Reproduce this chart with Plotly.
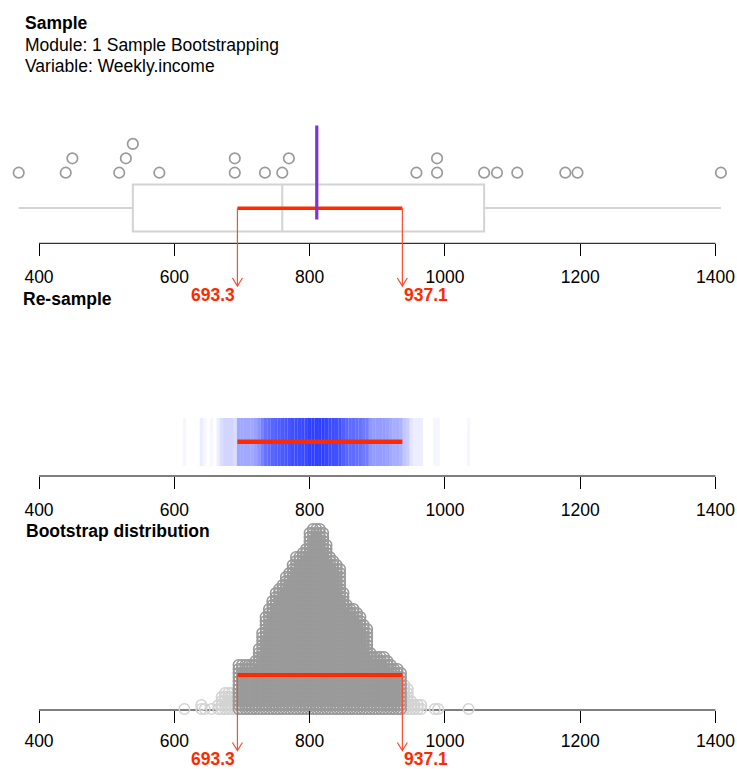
import numpy as np
import plotly.graph_objects as go

# ---------------- data ----------------
sample_income = [370, 439.5, 449.3, 518.6, 528.4, 538.7, 577.9, 689.4, 689.4,
                 734, 759.6, 769.4, 957.9, 988.4, 988.4, 1058, 1077, 1107,
                 1178, 1196, 1408]
ci_bounds = [693.3, 937.1]
ci_labels = ["693.3", "937.1"]

# bootstrap means, binned (bin centre, number of resamples in the bin)
boot_bins = [615, 640, 645, 655, 665, 670, 675, 680, 685, 690,
             695, 700, 705, 710, 715, 720, 725, 730, 735, 740,
             745, 750, 755, 760, 765, 770, 775, 780, 785, 790,
             795, 800, 805, 810, 815, 820, 825, 830, 835, 840,
             845, 850, 855, 860, 865, 870, 875, 880, 885, 890,
             895, 900, 905, 910, 915, 920, 925, 930, 935, 940,
             945, 950, 955, 960, 965, 985, 990, 1035]
boot_counts = [1, 2, 1, 1, 2, 4, 5, 5, 5, 4,
               12, 12, 12, 12, 12, 13, 16, 20, 24, 26,
               28, 30, 31, 32, 34, 35, 37, 39, 39, 40,
               41, 45, 46, 46, 46, 45, 42, 39, 38, 37,
               36, 30, 27, 26, 26, 25, 24, 22, 21, 15,
               14, 14, 14, 14, 13, 12, 11, 11, 10, 7,
               6, 3, 2, 2, 2, 1, 1, 1]
boot_bin_width = 5

tick_vals = [400, 600, 800, 1000, 1200, 1400]
tick_text = ["400", "600", "800", "1000", "1200", "1400"]

title_lines = ["Sample", "Module: 1 Sample Bootstrapping", "Variable: Weekly.income"]
panel_titles = ["Re-sample", "Bootstrap distribution"]

# ---------------- layout constants (pixels) ----------------
W, H = 737, 769
FONT = "Liberation Sans, Arial, sans-serif"
FS = 17.5
PX_FIRST, PX_LAST = 39.0, 715.5          # pixel x of first / last tick
scale = (PX_LAST - PX_FIRST) / (tick_vals[-1] - tick_vals[0])
x_range = [tick_vals[0] - PX_FIRST / scale, tick_vals[0] + (W - PX_FIRST) / scale]

AXIS_Y = [243.3, 476.0, 710.0]
RED = "#FF2A00"
RED_THIN = "#FF4A30"
GREY = "#9A9A9A"
LIGHT = "#D3D3D3"
PURPLE = "#7E35CF"

fig = go.Figure()

# ---------------- panel 1: sample ----------------
fig.add_trace(go.Box(
    x=sample_income, y0=208, orientation="h", width=47, whiskerwidth=0,
    quartilemethod="inclusive", boxpoints=False,
    line=dict(color=LIGHT, width=2), fillcolor="rgba(0,0,0,0)",
    xaxis="x", yaxis="y", hoverinfo="skip", showlegend=False))

vals_sorted = sorted(sample_income)
levels = []
prev = None
lvl = 0
for v in vals_sorted:
    if prev is not None and v - prev < 12:
        lvl += 1
    else:
        lvl = 0
    levels.append(lvl)
    prev = v
ROW0, ROW_STEP = 172.7, 14.4
fig.add_trace(go.Scatter(
    x=vals_sorted, y=[ROW0 - l * ROW_STEP for l in levels], mode="markers",
    marker=dict(symbol="circle-open", size=10.5, color=GREY, line=dict(width=1.7)),
    xaxis="x", yaxis="y", hoverinfo="skip", showlegend=False))

# ---------------- panel 2: re-sample band ----------------
line_alpha = 0.04
band_colors = ["rgba(10,30,255,%.3f)" % (1 - (1 - line_alpha) ** c) for c in boot_counts]
BAND_TOP, BAND_BOT = 418.0, 466.0
fig.add_trace(go.Bar(
    x=boot_bins, y=[BAND_BOT - BAND_TOP] * len(boot_bins), base=BAND_TOP,
    width=boot_bin_width, marker=dict(color=band_colors, line=dict(width=0)),
    xaxis="x2", yaxis="y", hoverinfo="skip", showlegend=False))

# ---------------- panel 3: bootstrap distribution ----------------
BASE3, STEP3 = 709.0, 4.0
dx, dy, lx, ly = [], [], [], []
for b, c in zip(boot_bins, boot_counts):
    inside = ci_bounds[0] <= b <= ci_bounds[1]
    for k in range(c):
        if inside:
            dx.append(b); dy.append(BASE3 - k * STEP3)
        else:
            lx.append(b); ly.append(BASE3 - k * STEP3)
fig.add_trace(go.Scatter(
    x=lx, y=ly, mode="markers",
    marker=dict(symbol="circle-open", size=10.5, color=LIGHT, line=dict(width=1.6)),
    xaxis="x3", yaxis="y", hoverinfo="skip", showlegend=False))
fig.add_trace(go.Scatter(
    x=dx, y=dy, mode="markers",
    marker=dict(symbol="circle-open", size=10.5, color=GREY, line=dict(width=1.6)),
    xaxis="x3", yaxis="y", hoverinfo="skip", showlegend=False))

# ---------------- shapes ----------------
shapes = []
for ay in AXIS_Y:
    shapes.append(dict(type="line", xref="x", yref="y", x0=tick_vals[0], x1=tick_vals[-1],
                       y0=ay, y1=ay, line=dict(color="black", width=1), layer="below"))

def ci_arrow(xv, y_top, tip, xref="x"):
    return dict(type="path", xref=xref, yref="y", xsizemode="pixel", xanchor=xv,
                path="M0,%g L0,%g M-5,%g L0,%g L5,%g" % (y_top, tip, tip - 8, tip, tip - 8),
                line=dict(color=RED_THIN, width=1.2), layer="above")

# panel 1 CI
RED1, TIP1 = 208.3, 286.0
shapes.append(dict(type="line", xref="x", yref="y", x0=ci_bounds[0], x1=ci_bounds[1],
                   y0=RED1, y1=RED1, line=dict(color=RED, width=3.5)))
for c in ci_bounds:
    shapes.append(ci_arrow(c, RED1, TIP1))
# mean line
mean_val = float(np.mean(sample_income))
shapes.append(dict(type="line", xref="x", yref="y", x0=mean_val, x1=mean_val,
                   y0=125.5, y1=219.5, line=dict(color=PURPLE, width=3.2)))
# panel 2 CI
shapes.append(dict(type="line", xref="x2", yref="y", x0=ci_bounds[0], x1=ci_bounds[1],
                   y0=441.7, y1=441.7, line=dict(color=RED, width=4.5)))
# panel 3 CI
RED3, TIP3 = 675.0, 750.5
shapes.append(dict(type="line", xref="x3", yref="y", x0=ci_bounds[0], x1=ci_bounds[1],
                   y0=RED3, y1=RED3, line=dict(color=RED, width=3.8)))
for c in ci_bounds:
    shapes.append(ci_arrow(c, RED3, TIP3, xref="x3"))

# ---------------- annotations ----------------
ann = []
def txt(text, xpx, ypx, bold=False, color="black", xref="paper", xanchor="left"):
    return dict(text="<b>%s</b>" % text if bold else text,
                x=xpx / W if xref == "paper" else xpx, xref=xref, y=ypx, yref="y",
                xanchor=xanchor, yanchor="middle", showarrow=False,
                font=dict(family=FONT, size=FS, color=color))

ann.append(txt(title_lines[0], 23, 22.5, bold=True))
ann.append(txt(title_lines[1], 23, 44.5))
ann.append(txt(title_lines[2], 23, 66.3))
ann.append(txt(panel_titles[0], 21, 298.7, bold=True))
ann.append(txt(panel_titles[1], 24, 531.0, bold=True))
for lab_y, xr in [(294.5, "x"), (759.3, "x3")]:
    ann.append(txt(ci_labels[0], ci_bounds[0], lab_y, bold=True, color=RED, xref=xr, xanchor="right"))
    ann.append(txt(ci_labels[1], ci_bounds[1], lab_y, bold=True, color=RED, xref=xr, xanchor="left"))

# ---------------- axes ----------------
def xax(pos, standoff=6, **kw):
    d = dict(range=x_range, anchor="free", position=pos, showline=False, showgrid=False,
             zeroline=False, ticks="outside", ticklen=11.5, tickwidth=1, tickcolor="black",
             tickvals=tick_vals, ticktext=tick_text, ticklabelstandoff=standoff,
             tickfont=dict(family=FONT, size=FS, color="black"), fixedrange=True)
    d.update(kw)
    return d

fig.update_layout(
    width=W, height=H, margin=dict(l=0, r=0, t=0, b=0),
    paper_bgcolor="white", plot_bgcolor="white",
    xaxis=xax(1 - AXIS_Y[0] / H),
    xaxis2=xax(1 - AXIS_Y[1] / H, overlaying="x"),
    xaxis3=xax(1 - AXIS_Y[2] / H, standoff=3, overlaying="x"),
    yaxis=dict(range=[H, 0], domain=[0, 1], visible=False, fixedrange=True),
    shapes=shapes, annotations=ann, showlegend=False,
)

fig.write_html("out.html", config={"displayModeBar": False},
               post_script="document.body.style.margin='0';")
